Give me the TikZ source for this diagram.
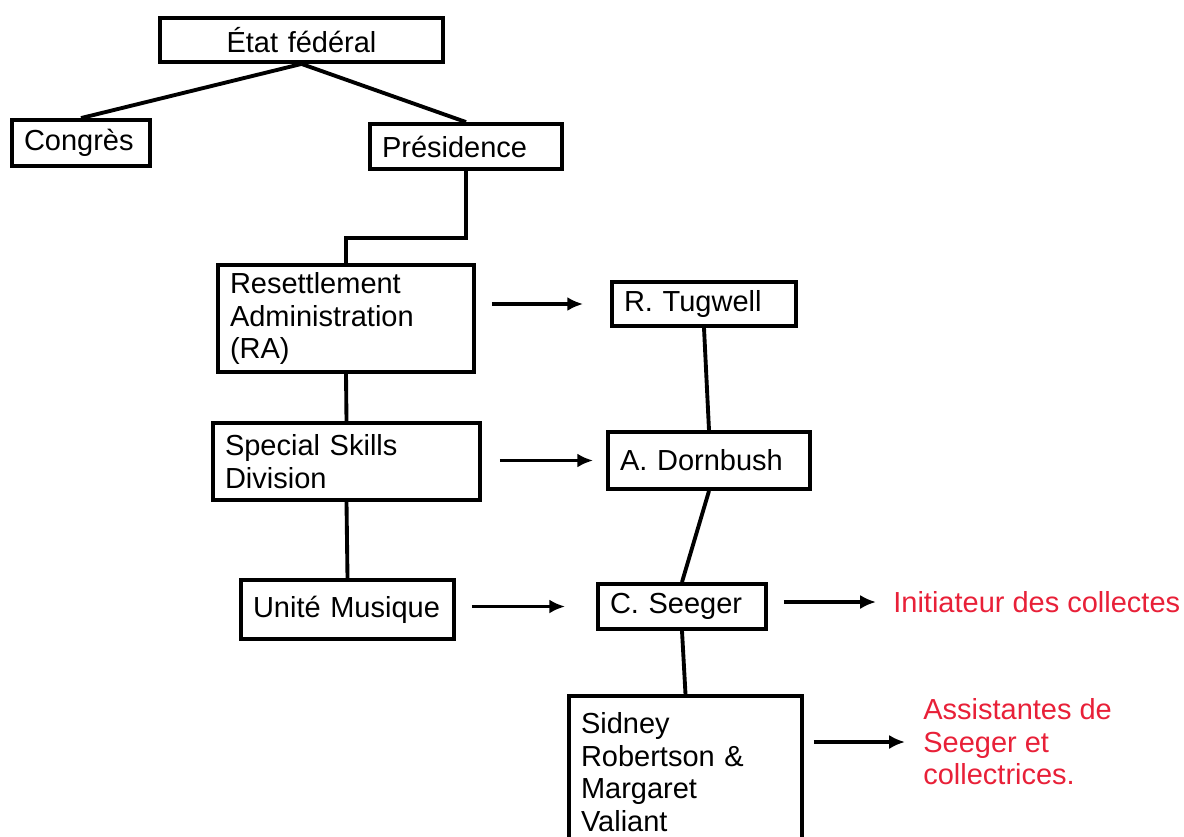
\documentclass[tikz,border=0pt]{standalone}
\usepackage{fontspec}
\setmainfont{Liberation Sans}
\usetikzlibrary{arrows.meta}
\definecolor{rouge}{RGB}{232,32,56}

\begin{document}
\begin{tikzpicture}[x=0.02cm, y=-0.02cm,
    boite/.style={draw, line width=2.2pt, inner xsep=0.24cm, inner ysep=0pt, align=left,
                  font=\fontsize{16.5pt}{18.5pt}\selectfont},
    trait/.style={line width=2.2pt},
    fleche/.style={line width=2.2pt, -{Latex[length=9pt,width=8pt]}},
    note/.style={text=rouge, inner sep=0pt, anchor=west, align=left,
                 font=\fontsize{16.5pt}{18.5pt}\selectfont}]
\useasboundingbox (0,0) rectangle (1184,836);
\node[boite, align=center, text width=5.18cm, minimum height=0.88cm] (etat) at (301.5,40) {État fédéral};
\node[boite, text width=2.28cm, minimum height=0.92cm] (congres) at (81,143) {Congrès};
\node[boite, text width=3.36cm, minimum height=0.90cm] (presidence) at (466,146.5) {Présidence};
\node[boite, text width=4.64cm, minimum height=2.14cm] (ra) at (346,318.5) {Resettlement\\Administration\\(RA)};
\node[boite, text width=3.20cm, minimum height=0.88cm] (tugwell) at (704,304) {R. Tugwell};
\node[boite, text width=4.86cm, minimum height=1.54cm] (ssd) at (346.5,461.5) {Special Skills\\Division};
\node[boite, text width=3.56cm, minimum height=1.14cm] (dornbush) at (709,460.5) {A. Dornbush};
\node[boite, text width=3.78cm, minimum height=1.18cm] (unite) at (347.5,609.5) {Unité Musique};
\node[boite, text width=2.88cm, minimum height=0.90cm] (seeger) at (682,606.5) {C. Seeger};
\node[boite, text width=4.18cm, minimum height=3.04cm] (sidney) at (685.5,772) {Sidney\\Robertson \&\\Margaret\\Valiant};
\node[note] (initiateur) at (893,602) {Initiateur des collectes};
\node[note] (assistantes) at (923,742) {Assistantes de\\Seeger et\\collectrices.};

\draw[trait] (etat.south) -- (congres.north);
\draw[trait] (etat.south) -- (presidence.north);
\draw[trait] (presidence.south) -- ++(0,67) -| (ra.north);
\draw[trait] (ra.south) -- (ssd.north);
\draw[trait] (ssd.south) -- (unite.north);
\draw[trait] (tugwell.south) -- (dornbush.north);
\draw[trait] (dornbush.south) -- (seeger.north);
\draw[trait] (seeger.south) -- (sidney.north);

\draw[fleche, shorten <=0.32cm, shorten >=0.54cm] (ra.east |- tugwell.west) -- (tugwell.west);
\draw[fleche, shorten <=0.36cm, shorten >=0.26cm] (ssd.east |- dornbush.west) -- (dornbush.west);
\draw[fleche, shorten <=0.32cm, shorten >=0.62cm] (unite.east |- seeger.west) -- (seeger.west);
\draw[fleche, shorten <=0.32cm, shorten >=0.34cm] (seeger.east |- initiateur.west) -- (initiateur.west);
\draw[fleche, shorten <=0.20cm, shorten >=0.36cm] (sidney.east |- assistantes.west) -- (assistantes.west);
\end{tikzpicture}
\end{document}
